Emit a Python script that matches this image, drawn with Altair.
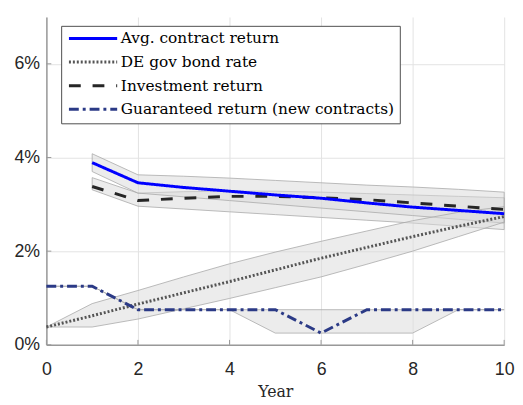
import altair as alt
import pandas as pd

# ---- data (percent) ----
years_all = [0, 1, 2, 3, 4, 5, 6, 7, 8, 9, 10]
years_from1 = [1, 2, 3, 4, 5, 6, 7, 8, 9, 10]

avg_ret = [3.89, 3.46, 3.36, 3.28, 3.20, 3.13, 3.03, 2.94, 2.87, 2.80]
avg_hi = [4.08, 3.63, 3.60, 3.56, 3.51, 3.46, 3.41, 3.37, 3.32, 3.26]
avg_lo = [3.70, 3.24, 3.16, 3.08, 3.00, 2.92, 2.84, 2.76, 2.68, 2.60]

inv_ret = [3.38, 3.08, 3.13, 3.17, 3.17, 3.14, 3.10, 3.03, 2.96, 2.89]
inv_hi = [3.57, 3.24, 3.27, 3.28, 3.28, 3.26, 3.23, 3.20, 3.17, 3.14]
inv_lo = [3.31, 2.96, 2.90, 2.84, 2.78, 2.72, 2.66, 2.60, 2.53, 2.46]

bond = [0.38, 0.62, 0.87, 1.11, 1.35, 1.60, 1.85, 2.08, 2.31, 2.53, 2.74]
bond_hi = [0.38, 0.88, 1.16, 1.45, 1.73, 1.98, 2.21, 2.43, 2.65, 2.83, 2.95]
bond_lo = [0.38, 0.38, 0.55, 0.77, 0.99, 1.22, 1.45, 1.72, 2.00, 2.31, 2.62]

guar = [1.25, 1.25, 0.75, 0.75, 0.75, 0.75, 0.25, 0.75, 0.75, 0.75, 0.75]
guar_hi = [1.25, 1.25, 0.75, 0.75, 0.75, 0.75, 0.75, 0.75, 0.75, 0.75, 0.75]
guar_lo = [1.25, 1.25, 0.75, 0.75, 0.75, 0.25, 0.25, 0.25, 0.25, 0.75, 0.75]

series_names = ["Avg. contract return", "DE gov bond rate", "Investment return",
                "Guaranteed return (new contracts)"]
series_colors = ["#0000ff", "#555555", "#262626", "#2b3a86"]
series_dashes = [[1, 0], [2, 2], [12, 12], [10, 4, 3, 4]]

y_ticks = [0, 2, 4, 6]
x_ticks = [0, 2, 4, 6, 8, 10]

# ---- tables ----
rows_line, rows_band = [], []
def add(name, xs, mid, lo, hi):
    for x, m, l, h in zip(xs, mid, lo, hi):
        rows_line.append({"year": x, "value": m, "series": name})
        rows_band.append({"year": x, "lo": l, "hi": h, "band": name})

add(series_names[2], years_from1, inv_ret, inv_lo, inv_hi)
add(series_names[0], years_from1, avg_ret, avg_lo, avg_hi)
add(series_names[1], years_all, bond, bond_lo, bond_hi)
add(series_names[3], years_all, guar, guar_lo, guar_hi)

lines_df = pd.DataFrame(rows_line)
bands_df = pd.DataFrame(rows_band)
ytick_df = pd.DataFrame({"v": y_ticks})
xtick_df = pd.DataFrame({"v": x_ticks})

axis_common = dict(
    grid=True, gridColor="#e3e3e3", gridWidth=1,
    domainColor="#999999", domainWidth=1.5,
    ticks=False, tickSize=0,
    labelFont="Liberation Sans", labelFontSize=18, labelColor="#262626",
)

x_enc = alt.X("year:Q", scale=alt.Scale(domain=[0, 10], nice=False),
              axis=alt.Axis(values=x_ticks, title="Year", titleFont="DejaVu Serif",
                            titleFontSize=16, titleFontWeight="normal", titleColor="#262626",
                            titlePadding=5, labelPadding=16, labelFlush=False, **axis_common))
y_scale = alt.Scale(domain=[0, 7], nice=False)

bands = alt.Chart(bands_df).mark_area(
    fill="#d9d9d9", fillOpacity=0.5, stroke="#aaaaaa", strokeWidth=0.8
).encode(
    x=x_enc,
    y=alt.Y("lo:Q", scale=y_scale,
            axis=alt.Axis(values=y_ticks, title=None, labelExpr="datum.value + '%'",
                          labelPadding=7, **axis_common)),
    y2="hi:Q",
    detail="band:N",
)

lines = alt.Chart(lines_df).mark_line(strokeWidth=3, strokeCap="butt").encode(
    x="year:Q",
    y="value:Q",
    color=alt.Color("series:N", scale=alt.Scale(domain=series_names, range=series_colors),
                    sort=series_names,
                    legend=alt.Legend(title=None, orient="none", legendX=15, legendY=9,
                                      symbolType="M-1,0H9", symbolSize=96,
                                      symbolStrokeWidth=3, labelFont="DejaVu Serif",
                                      labelFontSize=15.6, labelColor="#000000",
                                      labelOffset=40, rowPadding=7, padding=5,
                                      strokeColor="#4d4d4d", fillColor="#ffffff",
                                      labelLimit=400)),
    strokeDash=alt.StrokeDash("series:N", scale=alt.Scale(domain=series_names, range=series_dashes),
                              sort=series_names, legend=None),
)

yticks = alt.Chart(ytick_df).mark_rule(color="#999999", strokeWidth=1).encode(
    y="v:Q", x=alt.value(0), x2=alt.value(5)
)
xticks = alt.Chart(xtick_df).mark_rule(color="#999999", strokeWidth=1).encode(
    x="v:Q", y=alt.value(333), y2=alt.value(328)
)

chart = alt.layer(bands, yticks, xticks, lines).properties(
    width=465, height=333,
    autosize=alt.AutoSizeParams(type="none"),
    padding={"left": 39, "top": 6, "right": 11, "bottom": 58},
).configure_view(stroke=None).configure_legend(cornerRadius=0)

chart.save("out.html", embed_options={"renderer": "svg", "actions": False})
